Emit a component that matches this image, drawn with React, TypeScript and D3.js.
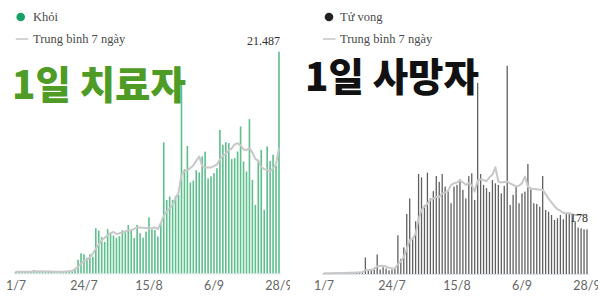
import React from "react";
import * as d3 from "d3";

const tickLabels = ["1/7", "24/7", "15/8", "6/9", "28/9"];
const tickIndex = [0, 23, 45, 67, 89];

const recovered = [
  180, 150, 160, 140, 170, 150, 320, 200, 180, 210,
  150, 190, 160, 140, 120, 130, 180, 250, 260, 270,
  300, 1300, 1940, 1840, 1500, 1840, 1600, 4370, 4150, 3500,
  3050, 4280, 3870, 3660, 3450, 3600, 4170, 4100, 4680, 4150,
  3420, 4690, 3880, 3450, 4050, 5420, 4270, 4200, 3560, 4850,
  12700, 7120, 7440, 7120, 7500, 7600, 18250, 10100, 12350, 8800,
  9000, 10000, 9780, 11330, 11800, 9200, 9400, 9710, 10190, 13900,
  12460, 12720, 12620, 11070, 11170, 11810, 14240, 10840, 9870, 14950,
  9060, 6630, 11000, 11970, 6150, 12300, 10900, 11490, 10400, 21487,
];

const recoveredAvg = [
  160, 160, 155, 150, 150, 155, 180, 190, 185, 190,
  180, 175, 170, 160, 150, 145, 150, 170, 190, 220,
  400, 650, 950, 1150, 1300, 1550, 1900, 2400, 2800, 3200,
  3450, 3700, 3900, 4000, 3800, 3880, 3950, 4050, 4150, 4200,
  4300, 4440, 4450, 4420, 4400, 4370, 4400, 4450, 4300, 4850,
  5600, 6000, 6300, 6650, 7300, 7800, 9550, 9900, 10000, 10200,
  10450, 10900, 11330, 10400, 10250, 10250, 10270, 10400, 10550, 11050,
  11400, 11600, 11950, 12100, 12500, 12620, 12400, 12000, 11950, 12150,
  11700, 11100, 10900, 10300, 10100, 10000, 9870, 10200, 10600, 12150,
];

const deaths = [
  3, 2, 4, 3, 5, 2, 4, 6, 4, 7,
  5, 8, 6, 10, 66, 16, 19, 25, 78, 18,
  27, 22, 15, 18, 22, 154, 60, 106, 239, 301,
  146, 210, 398, 385, 275, 404, 301, 330, 390, 367,
  398, 348, 335, 282, 348, 355, 377, 335, 301, 390,
  401, 295, 761, 398, 355, 342, 327, 374, 361, 355,
  321, 351, 829, 275, 315, 351, 282, 321, 328, 438,
  337, 282, 279, 268, 390, 255, 248, 235, 215, 222,
  235, 218, 242, 239, 232, 209, 185, 182, 178, 178,
];

const deathsAvg = [
  3, 3, 3, 3, 4, 4, 4, 4, 5, 5,
  5, 6, 6, 7, 15, 16, 17, 20, 30, 32,
  33, 30, 25, 22, 22, 40, 50, 69, 100, 135,
  140, 160, 220, 255, 268, 280, 295, 300, 308, 306,
  321, 325, 330, 355, 361, 365, 372, 365, 355, 361,
  355, 328, 372, 377, 374, 370, 385, 395, 425, 368,
  364, 366, 368, 361, 355, 348, 352, 361, 388, 348,
  341, 338, 337, 336, 335, 318, 300, 285, 270, 258,
  252, 244, 242, 242, 238, 235, 236, 235, 235, 236,
];

const W = 600;
const H = 301;

type PanelProps = {
  x0: number;
  clipX: number;
  clipW: number;
  baseline: number;
  values: number[];
  avg: number[];
  yDomainMax: number;
  yRangeTop: number;
  barColor: string;
  barWidth: number;
  dotColor: string;
  legendName: string;
  dotX: number;
  lineX0: number;
  textX: number;
  title: string;
  titleColor: string;
  titleX: number;
  titleY: number;
  id: string;
};

function Panel(p: PanelProps) {
  const n = p.values.length;
  const x = d3.scaleLinear().domain([0, n - 1]).range([p.x0, p.x0 + (n - 1) * 2.955]);
  const y = d3.scaleLinear().domain([0, p.yDomainMax]).range([p.baseline, p.yRangeTop]);
  const line = d3
    .line<number>()
    .x((_, i) => x(i))
    .y((d) => y(d));
  const last = n - 1;
  const lastVal = p.values[last];
  const fmt = (v: number) => d3.format(",")(v).replace(/,/g, ".");
  return (
    <g>
      <defs>
        <clipPath id={p.id}>
          <rect x={p.clipX} y={0} width={p.clipW} height={H} />
        </clipPath>
      </defs>
      <g clipPath={`url(#${p.id})`}>
        <circle cx={p.dotX} cy={17} r={4.3} fill={p.dotColor} />
        <text x={p.textX} y={21} fontFamily="'Liberation Serif', serif" fontSize={12.5} fill="#4a4a4a">
          {p.legendName}
        </text>
        <line x1={p.lineX0} x2={p.lineX0 + 12.5} y1={39} y2={39} stroke="#c4c4c4" strokeWidth={1.5} />
        <text x={p.textX} y={43} fontFamily="'Liberation Serif', serif" fontSize={12.5} fill="#4a4a4a">
          Trung bình 7 ngày
        </text>

        <line x1={x(0) - 2} x2={x(last) + 2} y1={p.baseline + 0.5} y2={p.baseline + 0.5} stroke="#dde3ea" strokeWidth={1} />

        {p.values.map((v, i) => (
          <rect
            key={i}
            x={x(i) - p.barWidth / 2}
            y={y(v)}
            width={p.barWidth}
            height={p.baseline - y(v)}
            fill={p.barColor}
          />
        ))}

        <path d={line(p.avg) || ""} fill="none" stroke="#c8c8c8" strokeWidth={2} strokeLinejoin="round" />

        <text
          x={x(last) + 1}
          y={y(lastVal) - 7}
          textAnchor="end"
          fontFamily="'Liberation Serif', serif"
          fontSize={12}
          fill="#333"
        >
          {fmt(lastVal)}
        </text>

        {tickIndex.map((ti, k) => (
          <text
            key={k}
            x={x(ti)}
            y={290}
            textAnchor="middle"
            fontFamily="Lato, 'Open Sans', sans-serif"
            fontSize={12.5}
            fill="#666"
          >
            {tickLabels[k]}
          </text>
        ))}

        <text
          x={p.titleX}
          y={p.titleY}
          fontFamily="'Noto Sans CJK KR', sans-serif"
          fontWeight={900}
          fontSize={38.5}
          fill={p.titleColor}
        >
          {p.title}
        </text>
      </g>
    </g>
  );
}

export default function App() {
  return (
    <svg
      width={W}
      height={H}
      viewBox={`0 0 ${W} ${H}`}
      style={{ position: "absolute", left: 0, top: 0, background: "#fff" }}
    >
      <rect x={0} y={0} width={W} height={H} fill="#fff" />
      <Panel
        id="clipL"
        x0={16}
        clipX={0}
        clipW={290}
        baseline={273.3}
        values={recovered}
        avg={recoveredAvg}
        yDomainMax={21487}
        yRangeTop={51.7}
        barColor="#5cbf8c"
        barWidth={1.6}
        dotColor="#17a067"
        legendName="Khỏi"
        dotX={20.7}
        lineX0={15.7}
        textX={33}
        title="1일 치료자"
        titleColor="#4e9c25"
        titleX={12}
        titleY={99}
      />
      <Panel
        id="clipR"
        x0={324}
        clipX={300}
        clipW={298}
        baseline={274}
        values={deaths}
        avg={deathsAvg}
        yDomainMax={178}
        yRangeTop={229.3}
        barColor="#606060"
        barWidth={1.3}
        dotColor="#222"
        legendName="Tử vong"
        dotX={329}
        lineX0={323}
        textX={340}
        title="1일 사망자"
        titleColor="#111"
        titleX={305}
        titleY={91}
      />
    </svg>
  );
}
